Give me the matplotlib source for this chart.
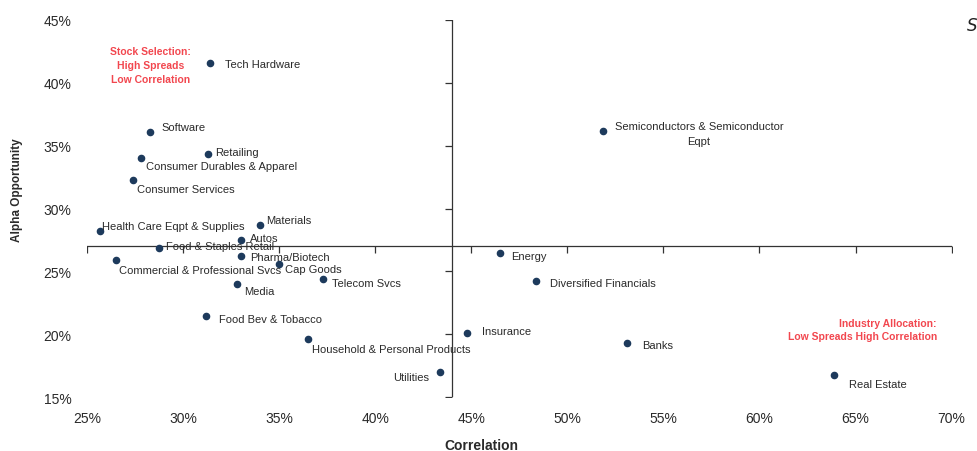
import matplotlib

matplotlib.use("Agg")
import matplotlib.pyplot as plt
from matplotlib.ticker import PercentFormatter

plt.rcParams["font.family"] = ["Liberation Sans", "DejaVu Sans"]

# industry groups: correlation vs alpha opportunity (fractions)
industries = [
    "Tech Hardware", "Software", "Retailing", "Consumer Durables & Apparel",
    "Consumer Services", "Health Care Eqpt & Supplies", "Materials", "Autos",
    "Food & Staples Retail", "Pharma/Biotech", "Commercial & Professional Svcs",
    "Cap Goods", "Telecom Svcs", "Media", "Food Bev & Tobacco",
    "Household & Personal Products", "Utilities", "Insurance", "Energy",
    "Diversified Financials", "Banks", "Real Estate",
    "Semiconductors & Semiconductor\nEqpt",
]
correlation = [
    0.314, 0.283, 0.313, 0.278,
    0.274, 0.257, 0.340, 0.330,
    0.2875, 0.330, 0.265,
    0.350, 0.373, 0.328, 0.312,
    0.365, 0.434, 0.448, 0.465,
    0.4835, 0.531, 0.639,
    0.5185,
]
alpha_opp = [
    0.416, 0.3605, 0.343, 0.340,
    0.323, 0.282, 0.287, 0.275,
    0.2685, 0.262, 0.259,
    0.256, 0.244, 0.240, 0.2145,
    0.196, 0.170, 0.201, 0.265,
    0.242, 0.193, 0.168,
    0.362,
]
# where each name sits relative to its dot (pixels, ha)
label_offsets = [
    (15, -1, "left"), (11, 5, "left"), (7, 2, "left"), (5, -8, "left"),
    (4, -9, "left"), (2, 5, "left"), (6, 5, "left"), (9, 2, "left"),
    (7, 2, "left"), (9, -1, "left"), (3, -10, "left"),
    (6, -5, "left"), (9, -4, "left"), (7, -7, "left"), (13, -3, "left"),
    (4, -10, "left"), (-11, -5, "right"), (15, 2, "left"), (11, -3, "left"),
    (14, -2, "left"), (15, -2, "left"), (15, -9, "left"),
    (96, -3, "center"),
]

x_ticks = [0.25, 0.30, 0.35, 0.40, 0.45, 0.50, 0.55, 0.60, 0.65, 0.70]
y_ticks = [0.15, 0.20, 0.25, 0.30, 0.35, 0.40, 0.45]
x_cross, y_cross = 0.44, 0.27

DOT = "#1d3a5c"
INK = "#2a2a2a"
RED = "#f2474f"

fig = plt.figure(figsize=(9.77, 4.52), dpi=100)
ax = fig.add_axes([0.089, 0.119, 0.885, 0.835])
ax.set_xlim(x_ticks[0], x_ticks[-1])
ax.set_ylim(y_ticks[0], y_ticks[-1])
for s in ax.spines.values():
    s.set_visible(False)

ax.set_xticks(x_ticks)
ax.set_yticks(y_ticks)
ax.xaxis.set_major_formatter(PercentFormatter(1.0, decimals=0))
ax.yaxis.set_major_formatter(PercentFormatter(1.0, decimals=0))
ax.tick_params(axis="both", length=0, labelsize=10, labelcolor=INK)
ax.tick_params(axis="x", pad=10)
ax.tick_params(axis="y", pad=11)

# quadrant cross with outward ticks
ax.plot([x_ticks[0], x_ticks[-1]], [y_cross, y_cross], color="#333333", lw=0.9)
ax.plot([x_cross, x_cross], [y_ticks[0], y_ticks[-1]], color="#333333", lw=0.9)
ax.plot(x_ticks, [y_cross] * len(x_ticks), ls="none", marker=3, ms=5,
        mew=0.9, color="#333333")
ax.plot([x_cross] * len(y_ticks), y_ticks, ls="none", marker=0, ms=5,
        mew=0.9, color="#333333")

ax.scatter(correlation, alpha_opp, s=20, color=DOT, zorder=3)
for name, x, y, (dx, dy, ha) in zip(industries, correlation, alpha_opp, label_offsets):
    ax.annotate(name, (x, y), xytext=(dx, dy), textcoords="offset pixels",
                ha=ha, va="center", fontsize=8, color=INK,
                multialignment="center", linespacing=1.55)

ax.text(0.074, 0.88, "Stock Selection:\nHigh Spreads\nLow Correlation",
        transform=ax.transAxes, ha="center", va="center", color=RED,
        fontsize=7.5, fontweight="bold", linespacing=1.55)
ax.text(0.983, 0.18, "Industry Allocation:\nLow Spreads High Correlation",
        transform=ax.transAxes, ha="right", va="center", color=RED,
        fontsize=7.5, fontweight="bold", multialignment="right", linespacing=1.4)

fig.text(481 / 977, 1 - 446 / 452, "Correlation", ha="center", va="center",
         fontsize=10, fontweight="bold", color=INK)
fig.text(17 / 977, 1 - 190 / 452, "Alpha Opportunity", ha="center", va="center",
         rotation=90, fontsize=8.5, fontweight="bold", color=INK)
fig.text(967 / 977, 1 - 26 / 452, "S", ha="left", va="center", fontsize=12,
         style="italic", color="#222222", family="DejaVu Sans")

fig.savefig("out.png", dpi=100)
